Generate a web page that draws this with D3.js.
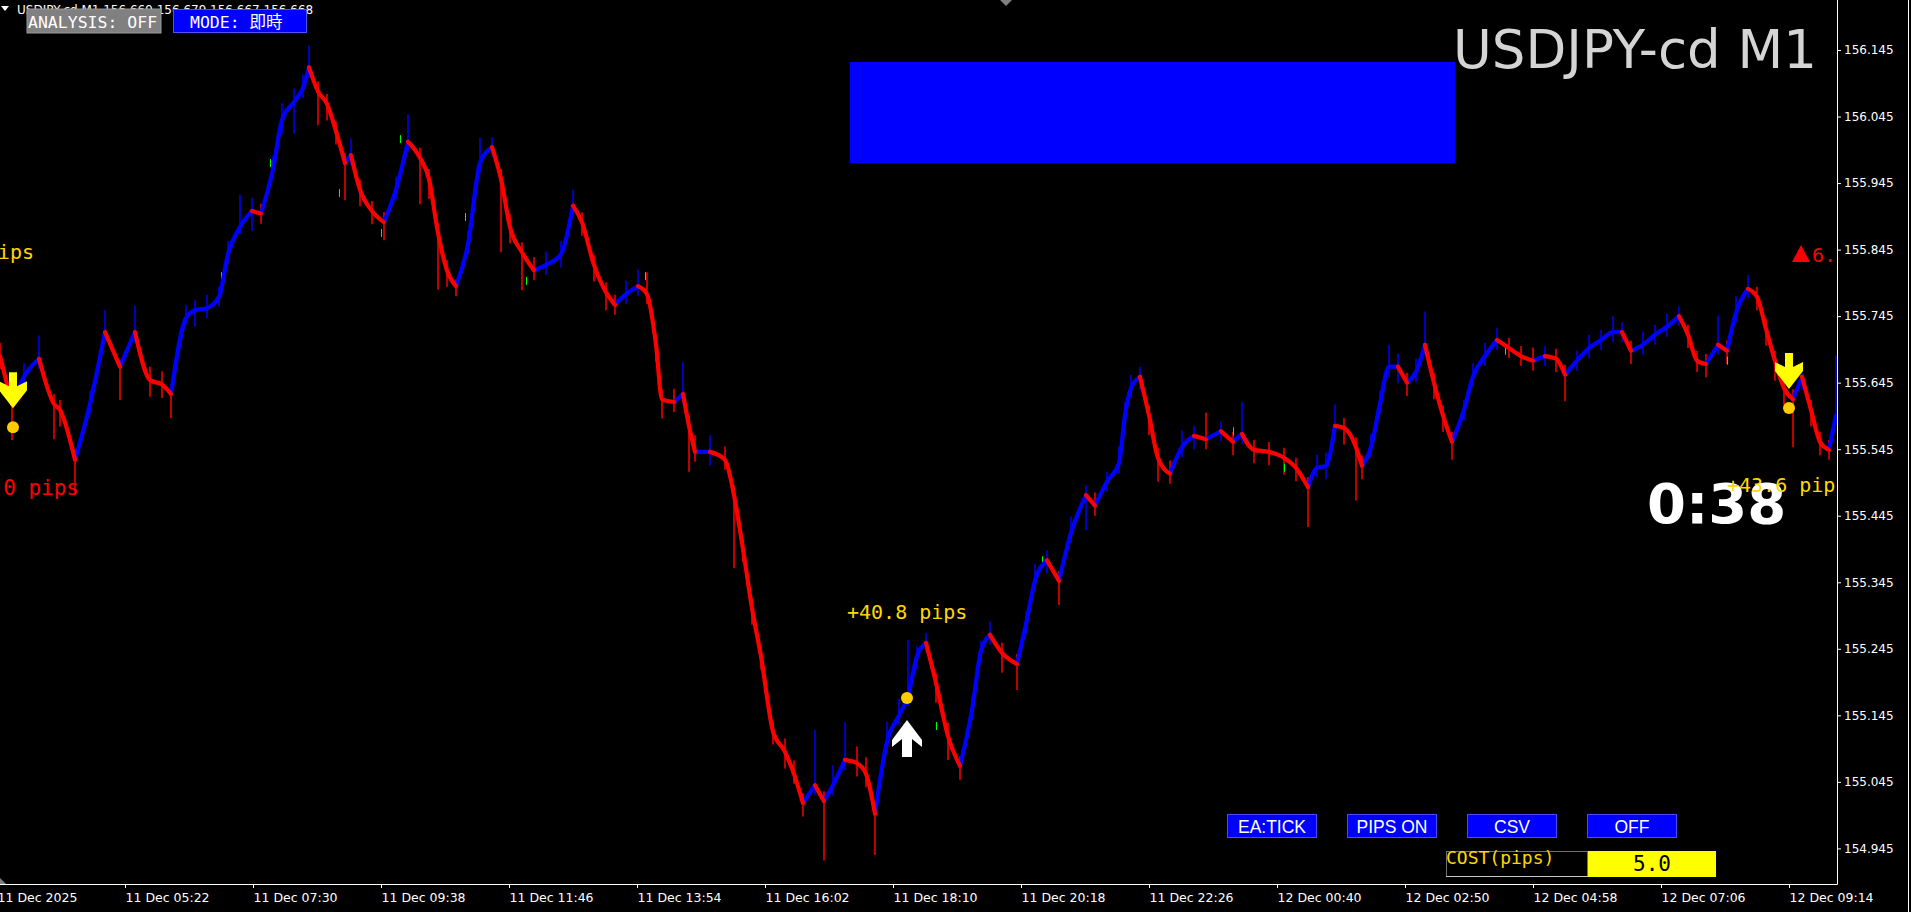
<!DOCTYPE html>
<html>
<head>
<meta charset="utf-8">
<title>USDJPY-cd M1</title>
<script src="https://cdn.jsdelivr.net/npm/d3@7"></script>
<style>
  html, body { margin: 0; padding: 0; background: #000; overflow: hidden; }
  svg { display: block; }
</style>
</head>
<body>
<div id="chart"></div>
<script>
// USDJPY-cd M1 chart, MT4 look, drawn with d3

// right price axis
const priceTicks = [154.945, 155.045, 155.145, 155.245, 155.345, 155.445, 155.545,
                    155.645, 155.745, 155.845, 155.945, 156.045, 156.145];

// bottom time axis (bar index of each label, 1 bar = 1 px)
const timeTickBars = [-3, 125, 253, 381, 509, 637, 765, 893, 1021, 1149, 1277, 1405, 1533, 1661, 1789];
const timeTickLabels = ["11 Dec 2025", "11 Dec 05:22", "11 Dec 07:30", "11 Dec 09:38", "11 Dec 11:46",
  "11 Dec 13:54", "11 Dec 16:02", "11 Dec 18:10", "11 Dec 20:18", "11 Dec 22:26", "12 Dec 00:40",
  "12 Dec 02:50", "12 Dec 04:58", "12 Dec 07:06", "12 Dec 09:14"];

// moving average line (bar index, price)
const maBar = [0, 12, 24, 39, 54, 60, 75, 90, 105, 120, 135, 150, 162, 171, 186, 195, 207, 219, 228, 240,
  252, 261, 273, 282, 294, 303, 309, 318, 327, 336, 345, 351, 360, 372, 384, 396, 408, 420, 429, 438,
  447, 456, 468, 480, 492, 501, 510, 522, 534, 546, 561, 573, 582, 594, 606, 615, 626, 638, 647, 656,
  662, 674, 683, 689, 695, 710, 725, 734, 743, 752, 761, 773, 785, 794, 803, 815, 824, 833, 845, 857,
  866, 875, 887, 899, 908, 917, 926, 936, 948, 960, 972, 981, 990, 1002, 1017, 1026, 1035, 1047, 1059, 1071,
  1086, 1095, 1107, 1119, 1125, 1131, 1140, 1149, 1158, 1170, 1182, 1194, 1206, 1221, 1233, 1242, 1254, 1269, 1284, 1296,
  1308, 1317, 1326, 1335, 1344, 1356, 1362, 1371, 1380, 1389, 1398, 1407, 1416, 1425, 1434, 1443, 1452, 1464, 1473, 1485,
  1497, 1509, 1521, 1533, 1545, 1556, 1565, 1577, 1589, 1601, 1613, 1622, 1631, 1643, 1655, 1667, 1679, 1688, 1697, 1706,
  1718, 1727, 1736, 1748, 1757, 1766, 1775, 1784, 1793, 1802, 1811, 1820, 1829, 1836];
const maPrice = [155.685, 155.613, 155.654, 155.681, 155.613, 155.604, 155.529, 155.613, 155.721, 155.669,
  155.721, 155.649, 155.642, 155.628, 155.742, 155.754, 155.757, 155.774, 155.838, 155.879,
  155.903, 155.899, 155.966, 156.040, 156.067, 156.088, 156.119, 156.083, 156.064, 156.023,
  155.975, 155.987, 155.935, 155.903, 155.886, 155.935, 156.007, 155.983, 155.951, 155.870,
  155.814, 155.790, 155.853, 155.975, 155.999, 155.951, 155.879, 155.841, 155.814, 155.822,
  155.838, 155.911, 155.886, 155.822, 155.781, 155.762, 155.778, 155.790, 155.778, 155.702,
  155.620, 155.616, 155.628, 155.580, 155.541, 155.541, 155.529, 155.476, 155.395, 155.306,
  155.234, 155.121, 155.090, 155.057, 155.013, 155.040, 155.016, 155.040, 155.078, 155.073,
  155.057, 154.997, 155.105, 155.145, 155.174, 155.234, 155.254, 155.194, 155.114, 155.069,
  155.153, 155.242, 155.266, 155.239, 155.222, 155.282, 155.347, 155.378, 155.347, 155.419,
  155.476, 155.460, 155.496, 155.524, 155.596, 155.637, 155.654, 155.596, 155.532, 155.508,
  155.548, 155.565, 155.560, 155.572, 155.556, 155.568, 155.544, 155.541, 155.532, 155.517,
  155.488, 155.517, 155.520, 155.580, 155.577, 155.548, 155.520, 155.548, 155.613, 155.669,
  155.669, 155.645, 155.661, 155.702, 155.645, 155.596, 155.556, 155.604, 155.654, 155.685,
  155.709, 155.697, 155.685, 155.678, 155.685, 155.681, 155.657, 155.678, 155.697, 155.709,
  155.721, 155.721, 155.693, 155.702, 155.717, 155.729, 155.745, 155.717, 155.678, 155.673,
  155.702, 155.693, 155.750, 155.786, 155.774, 155.726, 155.678, 155.637, 155.620, 155.654,
  155.604, 155.556, 155.544, 155.596];

// bar high / low around the line, in pips (1 pip = 0.01)
const hiPips = [2, 1.5, 2, 3.5, 1.5, 1.5, 1.5, 2, 3.3, 1, 4, 2, 2, 1.5, 2, 1.5, 2, 1.5, 2, 4.8,
  2, 1.5, 2, 2.5, 2, 2, 3.3, 1.5, 1.5, 1.5, 1.5, 2.5, 1.5, 1.5, 1.5, 2, 4.1, 1.5, 1.5, 1.5,
  1.5, 1, 2, 3.8, 1.5, 1.5, 2, 1.5, 2, 2, 2, 2.4, 1.5, 1.5, 1.5, 1.5, 2, 2.5, 3.3, 1.5,
  1.5, 2, 4.8, 1.5, 2.5, 2.5, 2, 1.5, 1.5, 1.5, 1.5, 1.5, 2, 2, 1.5, 8.3, 1.5, 3, 5.7, 2.5,
  2.5, 1.5, 3, 2.5, 8.4, 1.5, 1.5, 1.5, 2, 1.5, 2, 1.5, 2, 1.5, 1.5, 2, 2.5, 1.5, 1.5, 2.5,
  1.5, 2, 1.5, 2.5, 2, 2, 1.5, 1.5, 1.5, 2, 2.5, 1.5, 4, 1.5, 1.5, 4.8, 1.5, 1.5, 1.5, 1.5,
  1.5, 2, 2, 3.2, 1.5, 1.5, 1.5, 2, 2, 3.3, 2, 1.5, 2, 5, 1.5, 1.5, 1.5, 1.5, 2, 2,
  1.8, 1.5, 1.5, 2, 1.5, 1.5, 1.5, 1.5, 2, 1.5, 2.4, 1.5, 1.5, 2, 1.5, 2, 1.5, 1.5, 1.5, 1.5,
  4.4, 1.5, 2.5, 2.1, 1.5, 1.5, 1.5, 1.5, 1.5, 1.5, 1.5, 1.5, 1.5, 9];
const loPips = [2, 5.4, 1.5, 1.5, 5.3, 2.5, 5.3, 1.5, 1.5, 5, 1.5, 2.5, 2, 3.6, 1, 2.5, 1.5, 1.5, 1.5, 1,
  3, 1.5, 1.5, 2, 4.8, 1.5, 1.5, 5.1, 2.5, 2, 5.6, 1.5, 2.5, 2, 2.7, 1.5, 1.5, 7, 3, 8.5,
  2.5, 1.5, 1.5, 1.5, 1.5, 11, 2.5, 5.7, 1.5, 1.5, 2, 1.5, 2, 2.5, 2.7, 1.5, 1.5, 1.5, 1.5, 2.5,
  2.9, 1.5, 1.5, 6.9, 1.5, 2, 1.5, 11, 2, 2.5, 2, 2, 2.5, 1.5, 2, 1.5, 8.9, 1.5, 1.5, 2,
  2, 6.2, 1.5, 1.5, 1.5, 2, 1.5, 3, 3.6, 2.1, 1.5, 1.5, 1.5, 3, 3.9, 1.5, 1.5, 2, 3.6, 1.5,
  5.3, 1.5, 1.5, 1.5, 1.5, 1.5, 2, 3, 3.6, 1.5, 1.5, 2, 1.5, 1.5, 2, 1.5, 2, 2, 2.5, 2,
  6, 1.5, 2, 1.5, 2.5, 8, 2, 1.5, 1.5, 1.5, 2.5, 2, 1.5, 1.5, 2.5, 2.5, 2.7, 1.5, 1.5, 1.5,
  1.5, 1.5, 1.5, 1.5, 1.5, 2, 4, 1.5, 1.5, 1.5, 1.5, 1.5, 2, 1.5, 1.5, 1.5, 1.5, 2, 1.7, 2,
  1.5, 2, 1.5, 1.5, 2, 2.5, 3, 2.5, 7.2, 2, 2.5, 2, 1.5, 1.5];

// a few doji bars (drawn green)
const dojiBar = [221, 270, 339, 381, 400, 465, 526, 645, 936, 1042, 1233, 1284, 1505, 1727];
const dojiPrice = [155.805, 155.975, 155.930, 155.870, 156.011, 155.894, 155.798, 155.805,
  155.129, 155.378, 155.572, 155.517, 155.693, 155.678];

// entry signals: bar, price, direction
const signalBar = [13, 907, 1789];
const signalPrice = [155.578, 155.171, 155.607];
const signalDir = ["sell", "buy", "sell"];

const W = 1911, H = 912;
const plotRight = 1837, plotBottom = 884;
const RED = "#ff0000", BLUE = "#0000ff", GOLD = "#ffd700";

const svg = d3.select("#chart").append("svg")
  .attr("width", W).attr("height", H)
  .style("background", "#000");

const x = d3.scaleLinear().domain([0, plotRight]).range([0, plotRight]);
const y = d3.scaleLinear().domain([154.945, 156.145]).range([848.4, 50]);

svg.append("clipPath").attr("id", "plotClip")
  .append("rect").attr("x", 0).attr("y", 0).attr("width", plotRight).attr("height", plotBottom);

const plot = svg.append("g").attr("clip-path", "url(#plotClip)");

// big blue panel
plot.append("rect").attr("x", 850).attr("y", 62).attr("width", 605).attr("height", 101).attr("fill", BLUE);

// title
plot.append("text").attr("x", 1453).attr("y", 68)
  .attr("font-family", "DejaVu Sans").attr("font-size", 53).attr("fill", "#d4d4d4")
  .text("USDJPY-cd M1");

// bars and line
const n = Math.min(maBar.length, maPrice.length, hiPips.length, loPips.length);
const pts = d3.range(n).map(i => ({ b: maBar[i], p: maPrice[i], hi: hiPips[i], lo: loPips[i] }));
function rising(i) {
  if (i === 0) return pts[1].p >= pts[0].p;
  return pts[i].p >= pts[i - 1].p;
}

plot.append("g").selectAll("line").data(pts).join("line")
  .attr("x1", d => x(d.b)).attr("x2", d => x(d.b))
  .attr("y1", d => y(d.p + d.hi * 0.01))
  .attr("y2", d => y(d.p - d.lo * 0.01))
  .attr("stroke", (d, i) => rising(i) ? BLUE : RED)
  .attr("stroke-width", 1.5);

plot.append("g").selectAll("line").data(dojiBar).join("line")
  .attr("x1", d => x(d) + 0.5).attr("x2", d => x(d) + 0.5)
  .attr("y1", (d, i) => y(dojiPrice[i] + 0.006))
  .attr("y2", (d, i) => y(dojiPrice[i] - 0.006))
  .attr("stroke", "#00ff00").attr("stroke-width", 1);

// split the line into rising / falling runs, each drawn as its own smooth path
const runs = [];
for (let i = 1; i < n; i++) {
  const up = pts[i].p >= pts[i - 1].p;
  const last = runs[runs.length - 1];
  if (last && last.up === up) last.pts.push(pts[i]);
  else runs.push({ up, pts: [pts[i - 1], pts[i]] });
}
runs.sort((s, t) => (t.up ? 1 : 0) - (s.up ? 1 : 0)); // blue first, red over it

const maLine = d3.line().x(d => x(d.b)).y(d => y(d.p)).curve(d3.curveMonotoneX);
plot.append("g").selectAll("path").data(runs).join("path")
  .attr("d", d => maLine(d.pts))
  .attr("fill", "none")
  .attr("stroke", d => d.up ? BLUE : RED)
  .attr("stroke-width", 4.2)
  .attr("stroke-linecap", "round")
  .attr("stroke-linejoin", "round");

// signal arrows + dots
const sig = signalBar.map((b, i) => ({ b, p: signalPrice[i], dir: signalDir[i] }));
const downArrow = "M-4,-36 L4,-36 L4,-22 L14,-27 L14,-18 L0,0 L-14,-18 L-14,-27 L-4,-22 Z";
const upArrow = "M0,0 L15,20 L15,27 L5,19 L5,37 L-5,37 L-5,19 L-15,27 L-15,20 Z";
plot.append("g").selectAll("path").data(sig).join("path")
  .attr("transform", d => d.dir === "sell"
    ? `translate(${x(d.b)},${y(d.p) - 19})`
    : `translate(${x(d.b)},${y(d.p) + 22})`)
  .attr("d", d => d.dir === "sell" ? downArrow : upArrow)
  .attr("fill", d => d.dir === "sell" ? "#ffff00" : "#ffffff");
plot.append("g").selectAll("circle").data(sig).join("circle")
  .attr("cx", d => x(d.b)).attr("cy", d => y(d.p)).attr("r", 6)
  .attr("fill", "#ffcc00");

// pips labels
const mono = "DejaVu Sans Mono";
plot.append("text").attr("x", 34).attr("y", 259).attr("text-anchor", "end")
  .attr("font-family", mono).attr("font-size", 20).attr("fill", GOLD).text("+38.4 pips");
plot.append("text").attr("x", 79).attr("y", 495).attr("text-anchor", "end")
  .attr("font-family", mono).attr("font-size", 21).attr("fill", RED).text("-11.0 pips");
plot.append("text").attr("x", 847).attr("y", 619)
  .attr("font-family", mono).attr("font-size", 20).attr("fill", GOLD).text("+40.8 pips");

// countdown
plot.append("text").attr("x", 1647).attr("y", 523)
  .attr("font-family", "DejaVu Sans").attr("font-weight", "bold").attr("font-size", 56)
  .attr("fill", "#ffffff").text("0:38");
plot.append("text").attr("x", 1727).attr("y", 492)
  .attr("font-family", mono).attr("font-size", 20).attr("fill", GOLD).text("+43.6 pips");

// spread marker
plot.append("path").attr("d", "M1792,262 L1801,245 L1810,262 Z").attr("fill", RED);
plot.append("text").attr("x", 1812).attr("y", 262)
  .attr("font-family", mono).attr("font-size", 20).attr("fill", RED).text("6.8 pips");

// axes
const yAxis = d3.axisRight(y).tickValues(priceTicks).tickFormat(d3.format(".3f"))
  .tickSize(4).tickPadding(3);
const gy = svg.append("g").attr("transform", `translate(${plotRight},0)`).call(yAxis);
gy.select(".domain").remove();
gy.selectAll("line").attr("stroke", "#fff");
gy.selectAll("text").attr("fill", "#fff").attr("font-family", "DejaVu Sans").attr("font-size", 12);

const xAxis = d3.axisBottom(x).tickValues(timeTickBars).tickFormat((d, i) => timeTickLabels[i])
  .tickSize(4).tickPadding(5);
const gx = svg.append("g").attr("transform", `translate(0,${plotBottom})`).call(xAxis);
gx.select(".domain").remove();
gx.selectAll("line").attr("stroke", "#fff");
gx.selectAll("text").attr("fill", "#fff").attr("text-anchor", "start")
  .attr("font-family", "DejaVu Sans").attr("font-size", 12.5);

svg.append("line").attr("x1", plotRight + 0.5).attr("x2", plotRight + 0.5)
  .attr("y1", 0).attr("y2", plotBottom + 0.5).attr("stroke", "#fff");
svg.append("line").attr("x1", 0).attr("x2", plotRight + 0.5)
  .attr("y1", plotBottom + 0.5).attr("y2", plotBottom + 0.5).attr("stroke", "#fff");
svg.append("line").attr("x1", 1908.5).attr("x2", 1908.5).attr("y1", 0).attr("y2", H).attr("stroke", "#fff");

// small MT4 markers
svg.append("path").attr("d", "M1000,0 L1012,0 L1006,6 Z").attr("fill", "#808080");
svg.append("path").attr("d", "M0,878 L6,884 L0,884 Z").attr("fill", "#808080");

// header line
svg.append("path").attr("d", "M1,6 L9,6 L5,11 Z").attr("fill", "#fff");
svg.append("text").attr("x", 17).attr("y", 14)
  .attr("font-family", "DejaVu Sans").attr("font-size", 12).attr("fill", "#fff")
  .text("USDJPY-cd,M1  156.669 156.679 156.667 156.668");

// top buttons
svg.append("rect").attr("x", 27).attr("y", 9).attr("width", 134).attr("height", 24)
  .attr("fill", "#808080").attr("stroke", "#9a9a9a");
svg.append("text").attr("x", 28).attr("y", 28)
  .attr("font-family", mono).attr("font-size", 16.5).attr("fill", "#fff").text("ANALYSIS: OFF");
svg.append("rect").attr("x", 173.5).attr("y", 9.5).attr("width", 133).attr("height", 23)
  .attr("fill", BLUE).attr("stroke", "#5050ff");
svg.append("text").attr("x", 190).attr("y", 28)
  .attr("font-family", `${mono}, Noto Sans CJK JP`).attr("font-size", 16.5).attr("fill", "#fff").text("MODE: 即時");

// bottom buttons
const buttonLabels = ["EA:TICK", "PIPS ON", "CSV", "OFF"];
const bx = d3.scalePoint().domain(buttonLabels).range([1227, 1587]);
const btn = svg.append("g").selectAll("g").data(buttonLabels).join("g")
  .attr("transform", d => `translate(${bx(d)},814)`);
btn.append("rect").attr("x", 0.5).attr("y", 0.5).attr("width", 89).attr("height", 23)
  .attr("fill", BLUE).attr("stroke", "#4a4aff");
btn.append("text").attr("x", 45).attr("y", 19).attr("text-anchor", "middle")
  .attr("font-family", "Liberation Sans").attr("font-size", 17.5).attr("fill", "#fff")
  .text(d => d);

// cost box
svg.append("rect").attr("x", 1446.5).attr("y", 851.5).attr("width", 141).attr("height", 25)
  .attr("fill", "none").attr("stroke", "#707070");
svg.append("line").attr("x1", 1446).attr("x2", 1588).attr("y1", 876.5).attr("y2", 876.5)
  .attr("stroke", "#c8c8c8");
svg.append("text").attr("x", 1446).attr("y", 864)
  .attr("font-family", mono).attr("font-size", 18).attr("fill", GOLD).text("COST(pips)");
svg.append("rect").attr("x", 1588).attr("y", 851).attr("width", 128).attr("height", 26)
  .attr("fill", "#ffff00");
svg.append("text").attr("x", 1652).attr("y", 871).attr("text-anchor", "middle")
  .attr("font-family", mono).attr("font-size", 21).attr("fill", "#000").text("5.0");
</script>
</body>
</html>
